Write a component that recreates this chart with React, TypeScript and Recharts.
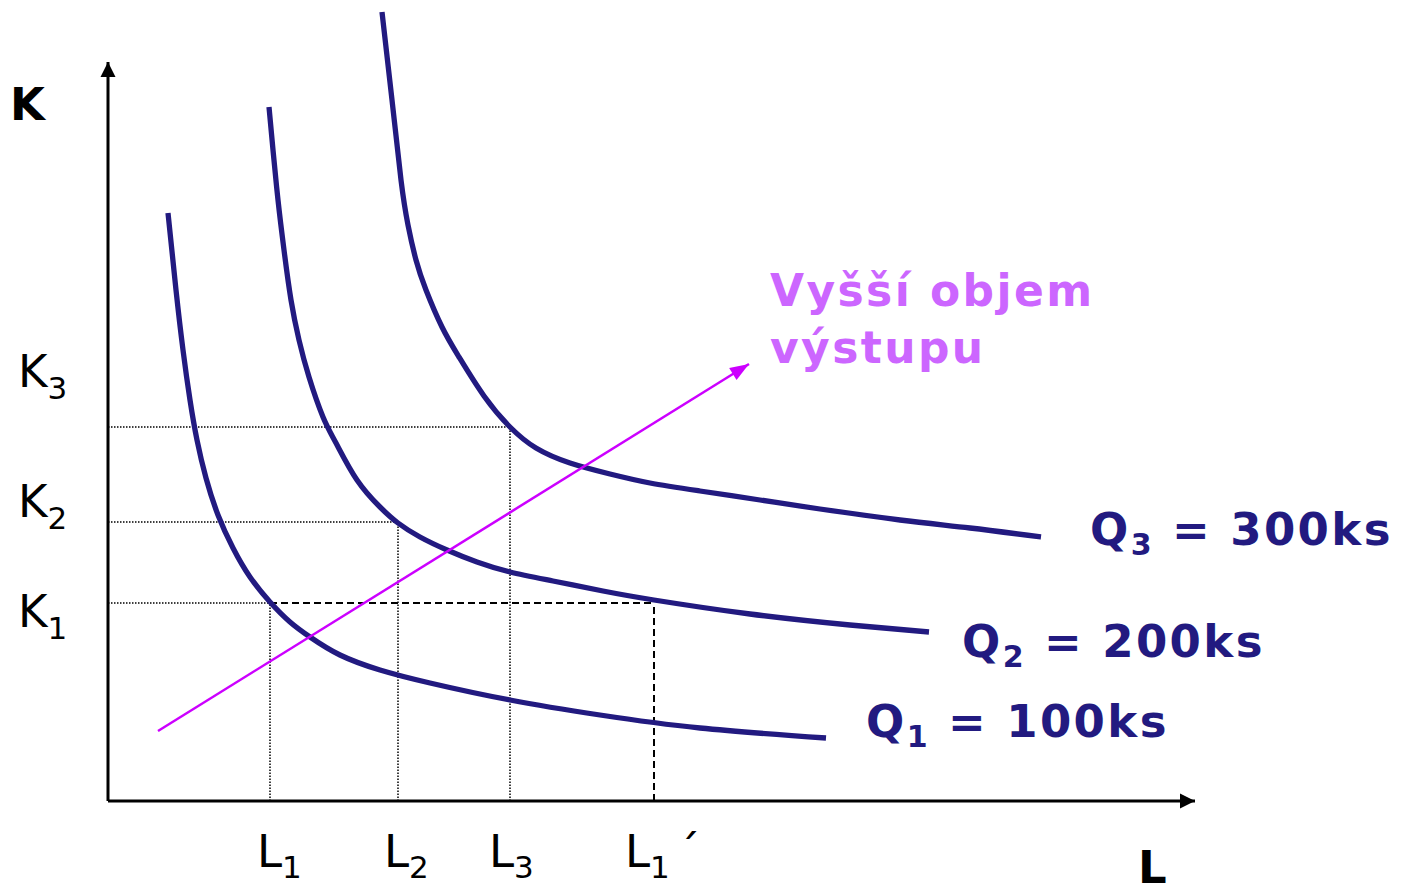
import { ComposedChart, Line, XAxis, YAxis, ReferenceDot } from "recharts";

// 1 unit = 10px; origin of the diagram at the axis corner
const q1 = [
  { l: 6.0, k: 58.8 }, { l: 6.8, k: 51.1 }, { l: 7.5, k: 45.1 }, { l: 8.2, k: 40.1 },
  { l: 8.9, k: 36.1 }, { l: 9.8, k: 32.3 }, { l: 11.0, k: 28.6 }, { l: 12.5, k: 25.3 },
  { l: 14.2, k: 22.4 }, { l: 16.2, k: 19.9 }, { l: 18.2, k: 17.9 }, { l: 20.2, k: 16.4 },
  { l: 23.2, k: 14.6 }, { l: 27.2, k: 13.1 }, { l: 32.2, k: 11.8 }, { l: 40.2, k: 10.1 },
  { l: 49.2, k: 8.6 }, { l: 59.2, k: 7.3 }, { l: 71.8, k: 6.3 },
];
const q2 = [
  { l: 16.1, k: 69.4 }, { l: 16.5, k: 65.1 }, { l: 17.0, k: 60.1 }, { l: 17.6, k: 55.1 },
  { l: 18.3, k: 50.1 }, { l: 19.1, k: 46.1 }, { l: 20.1, k: 42.4 }, { l: 21.5, k: 38.4 },
  { l: 22.8, k: 35.8 }, { l: 24.9, k: 32.1 }, { l: 27.2, k: 29.4 }, { l: 29.0, k: 27.8 },
  { l: 31.2, k: 26.4 }, { l: 33.9, k: 25.1 }, { l: 36.9, k: 23.9 }, { l: 40.2, k: 22.9 },
  { l: 44.5, k: 22.0 }, { l: 49.5, k: 21.0 }, { l: 54.6, k: 20.1 }, { l: 64.2, k: 18.7 },
  { l: 74.2, k: 17.6 }, { l: 82.1, k: 16.9 },
];
const q3 = [
  { l: 27.4, k: 78.9 }, { l: 28.4, k: 70.1 }, { l: 29.3, k: 62.1 }, { l: 30.0, k: 57.6 },
  { l: 30.8, k: 54.1 }, { l: 31.8, k: 51.1 }, { l: 33.4, k: 47.4 }, { l: 35.1, k: 44.4 },
  { l: 37.6, k: 40.5 }, { l: 40.2, k: 37.4 }, { l: 42.8, k: 35.3 }, { l: 46.2, k: 33.8 },
  { l: 50.2, k: 32.7 }, { l: 54.2, k: 31.8 }, { l: 59.2, k: 31.0 }, { l: 65.2, k: 30.1 },
  { l: 71.2, k: 29.2 }, { l: 79.2, k: 28.1 }, { l: 86.2, k: 27.3 }, { l: 93.3, k: 26.4 },
];

const L1 = 16.2, L2 = 29.0, L3 = 40.2, L1b = 54.6;
const K1 = 19.8, K2 = 27.9, K3 = 37.4;

const yAxisLine = [{ l: 0, k: 0 }, { l: 0, k: 73.9 }];
const xAxisLine = [{ l: 0, k: 0 }, { l: 108.7, k: 0 }];
const growth = [{ l: 5.0, k: 7.0 }, { l: 64.1, k: 43.7 }];

const dottedH = [
  [{ l: 0, k: K3 }, { l: L3, k: K3 }],
  [{ l: 0, k: K2 }, { l: L2, k: K2 }],
  [{ l: 0, k: K1 }, { l: L1, k: K1 }],
];
const dottedV = [
  [{ l: L1, k: 0 }, { l: L1, k: K1 }],
  [{ l: L2, k: 0 }, { l: L2, k: K2 }],
  [{ l: L3, k: 0 }, { l: L3, k: K3 }],
];
const dashed = [
  [{ l: L1, k: K1 }, { l: L1b, k: K1 }],
  [{ l: L1b, k: 0 }, { l: L1b, k: K1 }],
];

const xTicks = [
  { l: L1, sub: "1", extra: "" },
  { l: L2, sub: "2", extra: "" },
  { l: L3, sub: "3", extra: "" },
  { l: L1b, sub: "1", extra: "´" },
];
const xLabelShift = [-1.3, -1.4, -2.1, -2.9];
const yTicks = [
  { k: K3, sub: "3" },
  { k: K2, sub: "2" },
  { k: K1, sub: "1" },
];
const yLabelShift = [4.0, 0.5, -2.4];
const quantities = [
  { sub: "3", text: " = 300ks" },
  { sub: "2", text: " = 200ks" },
  { sub: "1", text: " = 100ks" },
];
const quantityPos = [
  { l: 98.2, k: 25.6 },
  { l: 85.4, k: 14.4 },
  { l: 75.8, k: 6.4 },
];

const NAVY = "#221a80";
const FONT = "'DejaVu Sans', Verdana, sans-serif";

// arrowhead drawn at the last point of a two point line, angle from data (equal scales)
function arrowHead(from: { l: number; k: number }, to: { l: number; k: number }, color: string, len: number, half: number) {
  const dx = to.l - from.l;
  const dy = -(to.k - from.k);
  const a = Math.atan2(dy, dx);
  return (props: any) => {
    const { cx, cy, index } = props;
    if (index !== 1) return <g key={index} />;
    const bx = cx - len * Math.cos(a);
    const by = cy - len * Math.sin(a);
    const px = -Math.sin(a) * half;
    const py = Math.cos(a) * half;
    return (
      <polygon
        key={index}
        points={`${cx},${cy} ${bx + px},${by + py} ${bx - px},${by - py}`}
        fill={color}
      />
    );
  };
}

const plain = { activeDot: false, isAnimationActive: false, legendType: "none" as const };

export default function App() {
  return (
    <div style={{ position: "absolute", left: 0, top: 0, width: 1405, height: 888, background: "#fff" }}>
      <ComposedChart width={1405} height={888} margin={{ top: 0, right: 0, bottom: 0, left: 0 }}>
        <XAxis type="number" dataKey="l" domain={[-10.8, 129.7]} hide allowDataOverflow />
        <YAxis type="number" dataKey="k" domain={[-8.7, 80.1]} hide allowDataOverflow />

        {dottedH.concat(dottedV).map((d, i) => (
          <Line key={"dt" + i} data={d} dataKey="k" stroke="#000" strokeWidth={1.5}
            strokeDasharray="1.5 1.5" dot={false} {...plain} />
        ))}
        {dashed.map((d, i) => (
          <Line key={"ds" + i} data={d} dataKey="k" stroke="#000" strokeWidth={2}
            strokeDasharray="7 4" dot={false} {...plain} />
        ))}

        <Line data={yAxisLine} dataKey="k" stroke="#000" strokeWidth={3} {...plain}
          dot={arrowHead(yAxisLine[0], yAxisLine[1], "#000", 15, 7.5)} />
        <Line data={xAxisLine} dataKey="k" stroke="#000" strokeWidth={3} {...plain}
          dot={arrowHead(xAxisLine[0], xAxisLine[1], "#000", 15, 7.5)} />

        {[q1, q2, q3].map((d, i) => (
          <Line key={"q" + i} data={d} dataKey="k" type="natural" stroke={NAVY}
            strokeWidth={5.3} dot={false} {...plain} />
        ))}

        <Line data={growth} dataKey="k" stroke="#cc00ff" strokeWidth={2.5} {...plain}
          dot={arrowHead(growth[0], growth[1], "#cc00ff", 19, 7)} />

        <ReferenceDot x={-9.8} y={68.1} r={0} shape={(p: any) => (
          <text x={p.cx} y={p.cy} fontFamily={FONT} fontWeight="bold" fontSize={45} fill="#000">K</text>
        )} />
        <ReferenceDot x={103.0} y={-8.2} r={0} shape={(p: any) => (
          <text x={p.cx} y={p.cy} fontFamily={FONT} fontWeight="bold" fontSize={45} fill="#000">L</text>
        )} />

        {yTicks.map((t, i) => (
          <ReferenceDot key={"yk" + i} x={-9.0} y={t.k + yLabelShift[i]} r={0} shape={(p: any) => (
            <text x={p.cx} y={p.cy} fontFamily={FONT} fontSize={45} fill="#000">
              K
              <tspan fontSize={31} dy={12}>{t.sub}</tspan>
            </text>
          )} />
        ))}
        {xTicks.map((t, i) => (
          <ReferenceDot key={"xt" + i} x={t.l + xLabelShift[i]} y={-6.6} r={0} shape={(p: any) => (
            <text x={p.cx} y={p.cy} fontFamily={FONT} fontSize={45} fill="#000">
              L
              <tspan fontSize={31} dy={11}>{t.sub}</tspan>
              {t.extra && <tspan fontSize={45} dy={-11} dx={8}>{t.extra}</tspan>}
            </text>
          )} />
        ))}

        {quantities.map((q, i) => (
          <ReferenceDot key={"qt" + i} x={quantityPos[i].l} y={quantityPos[i].k} r={0} shape={(p: any) => (
            <text x={p.cx} y={p.cy} fontFamily={FONT} fontWeight="bold" fontSize={45} fill={NAVY}
              style={{ letterSpacing: "2.4px" }}>
              Q
              <tspan fontSize={30} dy={10}>{q.sub}</tspan>
              <tspan fontSize={45} dy={-10}>{q.text}</tspan>
            </text>
          )} />
        ))}

        <ReferenceDot x={66.2} y={49.5} r={0} shape={(p: any) => (
          <text x={p.cx} y={p.cy} fontFamily={FONT} fontWeight="bold" fontSize={44} fill="#cc66ff"
            style={{ letterSpacing: "2.4px" }}>
            <tspan x={p.cx}>Vyšší objem</tspan>
            <tspan x={p.cx} dy={57}>výstupu</tspan>
          </text>
        )} />
      </ComposedChart>
    </div>
  );
}
